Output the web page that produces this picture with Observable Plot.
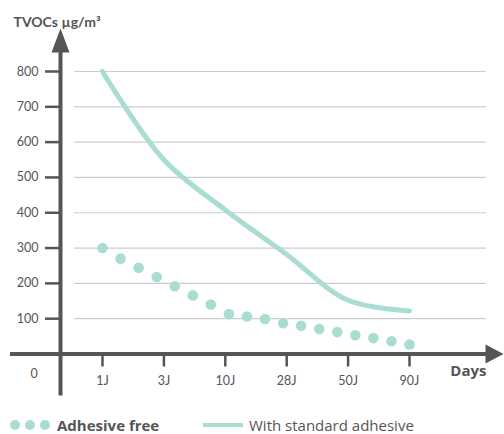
<!DOCTYPE html>
<html>
<head>
<meta charset="utf-8">
<script src="https://cdn.jsdelivr.net/npm/d3@7"></script>
<script src="https://cdn.jsdelivr.net/npm/@observablehq/plot@0.6"></script>
<style>
  html, body { margin: 0; padding: 0; background: #fff; }
  #wrap { position: relative; width: 504px; height: 434px; font-family: "Open Sans", Lato, sans-serif; color: #555; }
  #legend { position: absolute; left: 0; top: 404px; width: 504px; height: 30px; }
  .ldot { position: absolute; top: 16px; width: 10px; height: 10px; border-radius: 50%; background: #a9ddd3; }
  .lline { position: absolute; left: 203px; top: 19px; width: 40px; height: 4px; background: #a9ddd3; }
  .ltext { position: absolute; top: 11px; font-size: 15px; line-height: 20px; color: #555; white-space: nowrap; }
</style>
</head>
<body>
<div id="wrap">
  <div id="chart"></div>
  <div id="legend">
    <div class="ldot" style="left:10px"></div>
    <div class="ldot" style="left:25px"></div>
    <div class="ldot" style="left:40px"></div>
    <div class="ltext" style="left:57px;font-weight:bold">Adhesive free</div>
    <div class="lline"></div>
    <div class="ltext" style="left:249px">With standard adhesive</div>
  </div>
</div>
<script>
// Data
const xLabels = ["1J", "3J", "10J", "28J", "50J", "90J"];
const standardAdhesive = [800, 550, 408, 282, 152, 122];
const adhesiveFree = [300, 270, 244, 218, 192, 166, 140, 113, 106, 99, 87, 80, 71, 62, 53, 45, 36, 27];
const yTicks = [100, 200, 300, 400, 500, 600, 700, 800];

const teal = "#a9ddd3";
const dark = "#555555";

const lineData = standardAdhesive.map((v, i) => ({x: i, y: v}));
const n = adhesiveFree.length;
const dotData = adhesiveFree.map((v, i) => ({x: i * (xLabels.length - 1) / (n - 1), y: v}));

const yArrow = {draw(ctx) { ctx.moveTo(0, -12); ctx.lineTo(9, 12); ctx.lineTo(-9, 12); ctx.closePath(); }};
const xArrow = {draw(ctx) { ctx.moveTo(13, 0); ctx.lineTo(-5, -9.5); ctx.lineTo(-5, 9.5); ctx.closePath(); }};

const chart = Plot.plot({
  width: 504,
  height: 404,
  marginLeft: 60,
  marginRight: 14,
  marginTop: 40,
  marginBottom: 50.5,
  style: {fontFamily: "Lato, 'Open Sans', sans-serif", fontSize: "12px", color: dark, background: "#fff", overflow: "visible"},
  x: {type: "linear", domain: [0, 5], range: [102, 409]},
  y: {type: "linear", domain: [0, 800], range: [353.5, 71]},
  marks: [
    Plot.ruleY(yTicks, {stroke: "#cccccc", strokeWidth: 1.2, insetLeft: 14, insetRight: 4}),
    Plot.line(lineData, {x: "x", y: "y", stroke: teal, strokeWidth: 5, curve: "catmull-rom"}),
    Plot.dot(dotData, {x: "x", y: "y", r: 5.3, fill: teal, stroke: null}),
    Plot.axisY({anchor: "left", ticks: yTicks, tickSize: 15, tickPadding: 7, strokeWidth: 2.5, fontSize: 12.5, label: null}),
    Plot.axisX({anchor: "bottom", ticks: [0, 1, 2, 3, 4, 5], tickFormat: i => xLabels[i], tickSize: 13, tickPadding: 9, strokeWidth: 2.5, fontSize: 12.5, label: null}),
    Plot.ruleY([0], {stroke: dark, strokeWidth: 4, insetLeft: -50}),
    Plot.frame({anchor: "left", stroke: dark, strokeWidth: 4, insetBottom: -39.5}),
    Plot.dot([0], {frameAnchor: "top-left", symbol: yArrow, fill: dark, stroke: null}),
    Plot.dot([0], {y: d => d, frameAnchor: "right", symbol: xArrow, fill: dark, stroke: null}),
    Plot.text(["0"], {y: () => 0, frameAnchor: "left", dx: -30, dy: 20, fill: dark, fontSize: 12.5}),
    Plot.text(["Days"], {y: () => 0, frameAnchor: "right", textAnchor: "end", dx: -4, dy: 17, fill: dark, fontSize: 15, fontWeight: "bold", fontFamily: "'Open Sans', Lato, sans-serif"}),
    Plot.text(["TVOCs µg/m³"], {frameAnchor: "top-left", textAnchor: "start", dx: -47, dy: -23, fill: dark, fontSize: 14, fontWeight: "bold"})
  ]
});
document.getElementById("chart").appendChild(chart);
</script>
</body>
</html>
